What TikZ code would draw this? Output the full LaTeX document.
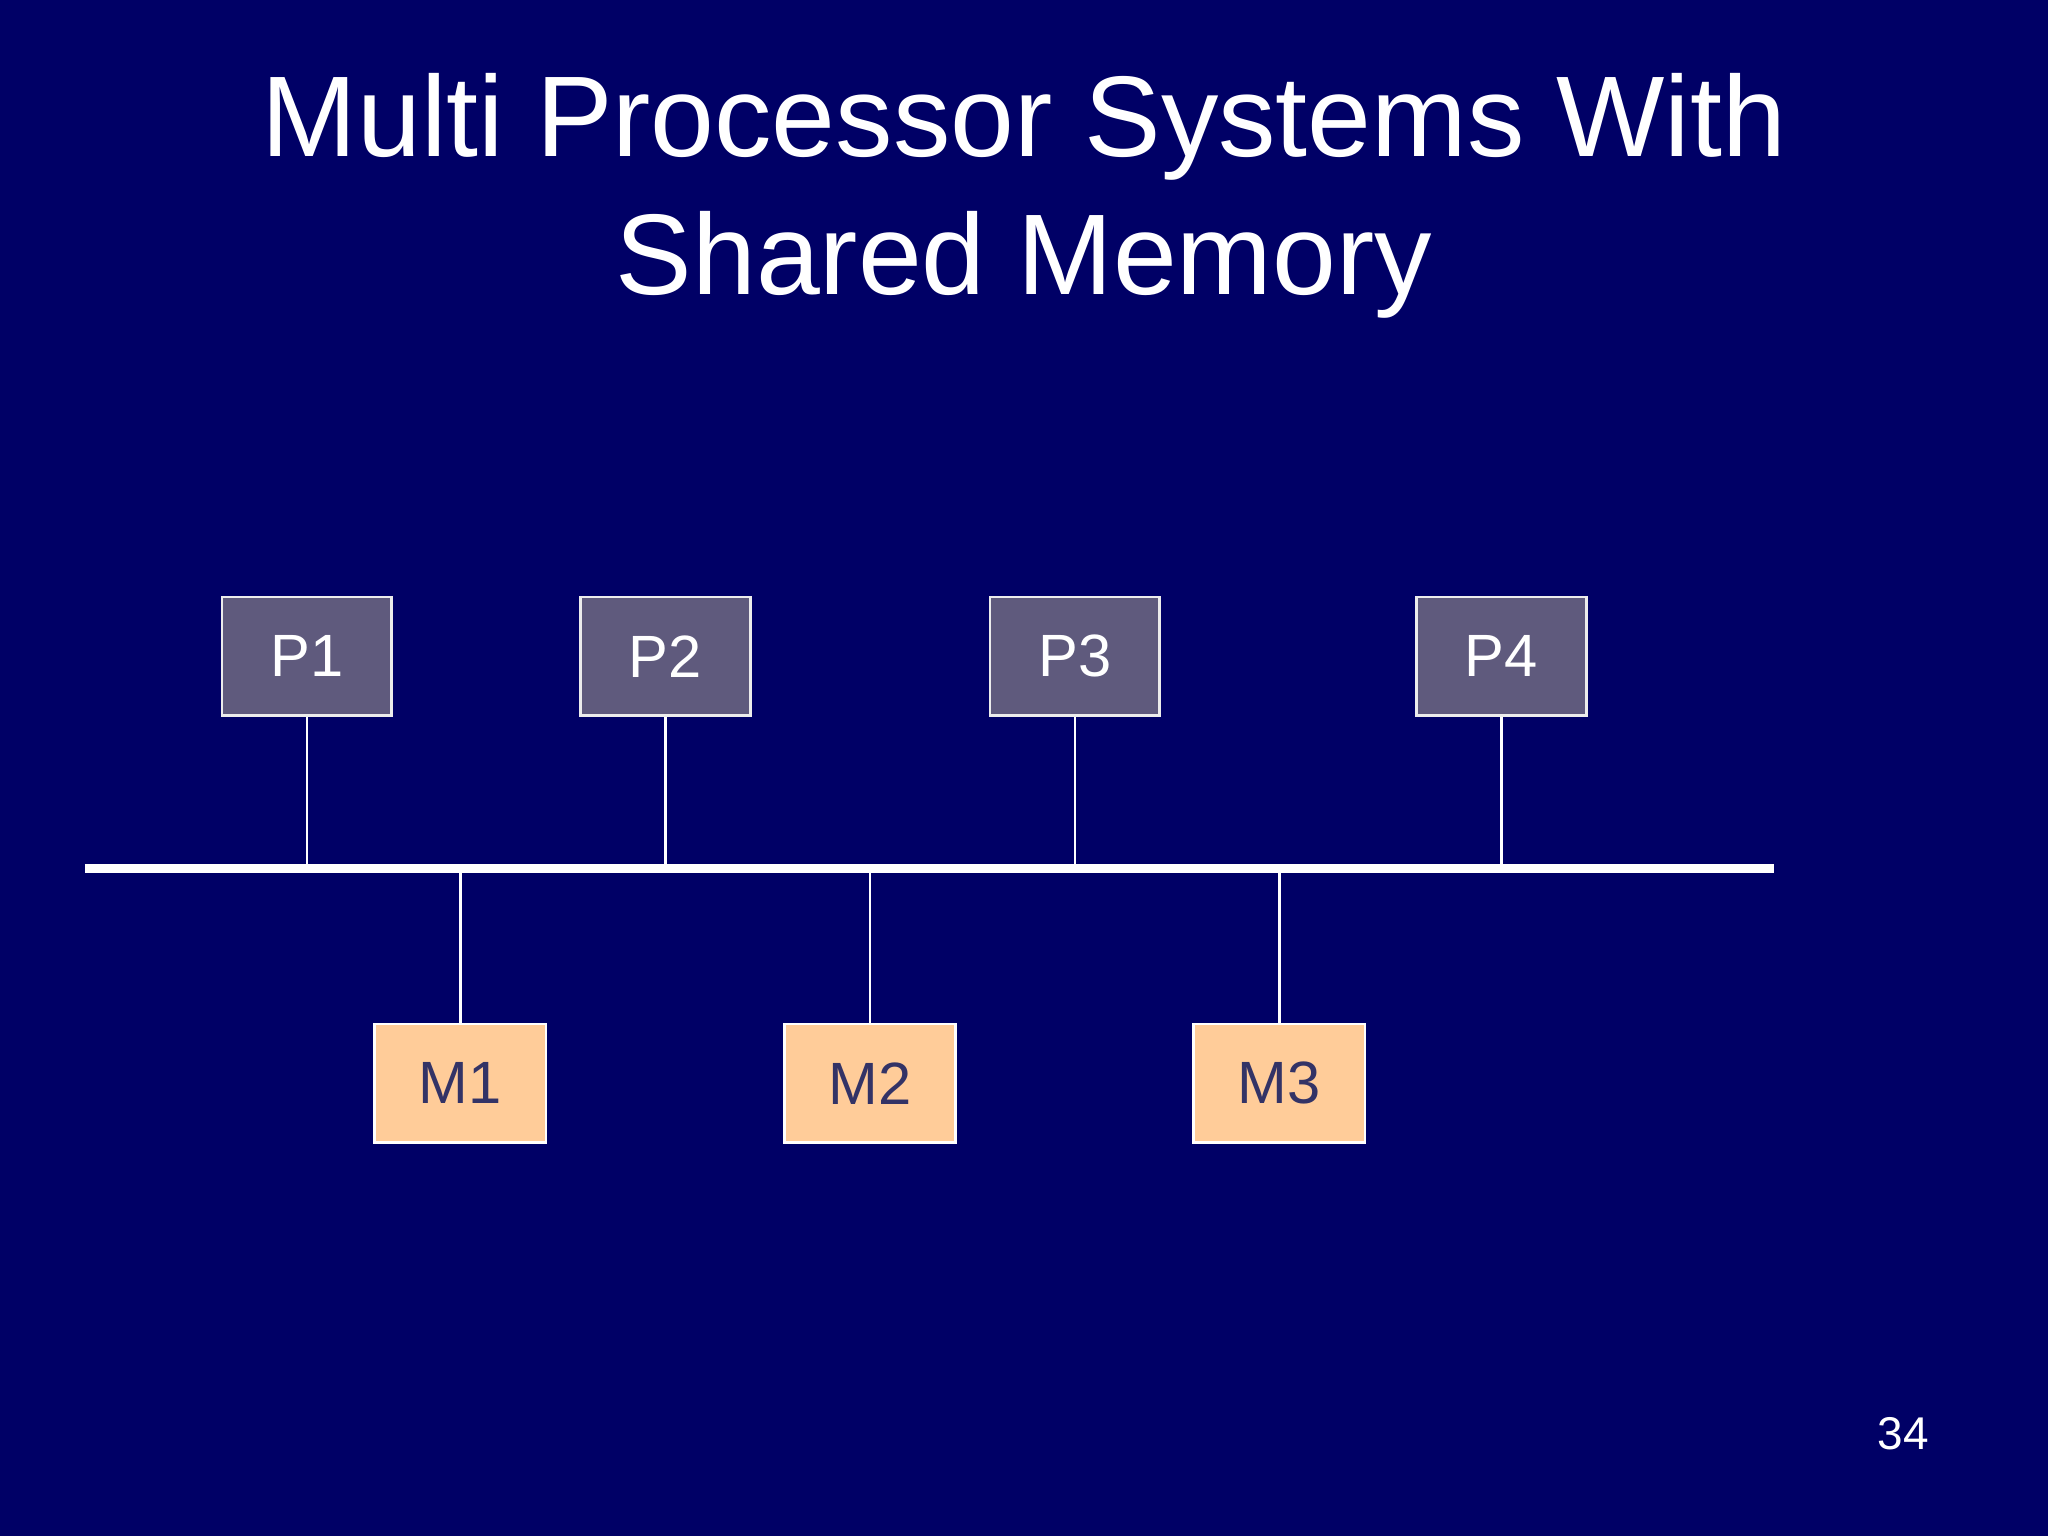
\documentclass[tikz,border=0pt]{standalone}
\usepackage{fontspec}
\setmainfont{Liberation Sans}
\definecolor{bg}{RGB}{0,0,102}
\definecolor{pbox}{RGB}{95,90,125}
\definecolor{mbox}{RGB}{255,204,153}
\definecolor{mtext}{RGB}{51,51,102}
\begin{document}
\begin{tikzpicture}[x=1cm,y=-1cm,
  proc/.style={draw=white!85!gray,line width=0.6pt,fill=pbox,minimum width=1.30cm,minimum height=0.91cm,text=white,font=\fontsize{13}{15}\selectfont,inner sep=0pt},
  mem/.style={draw=white,line width=0.6pt,fill=mbox,minimum width=1.31cm,minimum height=0.91cm,text=mtext,font=\fontsize{13}{15}\selectfont,inner sep=0pt},
  link/.style={draw=white,line width=0.5pt}]
\fill[bg] (0,0) rectangle (15.68,11.76);
\useasboundingbox (0,0) rectangle (15.68,11.76);
\node[text=white,align=center,font=\fontsize{25}{30}\selectfont] (title) at (7.84,1.5) {Multi Processor Systems With\\Shared Memory};
\node[proc] (p1) at (2.35,5.025) {P1};
\node[proc] (p2) at (5.095,5.025) {P2};
\node[proc] (p3) at (8.23,5.025) {P3};
\node[proc] (p4) at (11.495,5.025) {P4};
\node[mem] (m1) at (3.525,8.295) {M1};
\node[mem] (m2) at (6.66,8.295) {M2};
\node[mem] (m3) at (9.795,8.295) {M3};
\coordinate (bl) at (0.65,6.65);
\coordinate (br) at (13.58,6.65);
\draw[white,line width=0.07cm] (bl) -- (br);
\foreach \n in {p1,p2,p3,p4}{\draw[link] (\n.south) -- (\n.south |- bl);}
\foreach \n in {m1,m2,m3}{\draw[link] (\n.north) -- (\n.north |- bl);}
\node[text=white,font=\fontsize{10}{12}\selectfont] (pg) at (14.57,10.98) {34};
\end{tikzpicture}
\end{document}
